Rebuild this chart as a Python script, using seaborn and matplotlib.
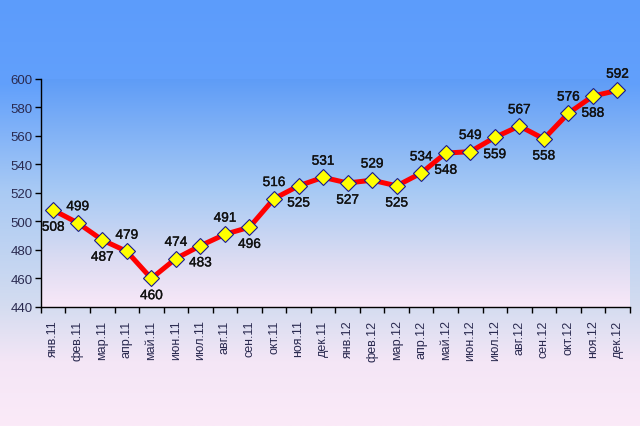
import numpy as np
import pandas as pd
import matplotlib
matplotlib.use("Agg")
import matplotlib.pyplot as plt
import matplotlib.patheffects as pe
from matplotlib.colors import LinearSegmentedColormap
import seaborn as sns

months = ["янв", "фев", "мар", "апр", "май", "июн", "июл", "авг", "сен", "окт", "ноя", "дек"]
categories = [f"{m}.11" for m in months] + [f"{m}.12" for m in months]
values = [508, 499, 487, 479, 460, 474, 483, 491, 496, 516, 525, 531,
          527, 529, 525, 534, 548, 549, 559, 567, 558, 576, 588, 592]
yticks = [440, 460, 480, 500, 520, 540, 560, 580, 600]

sns.set_style("white")
plt.rcParams['font.family'] = ['Liberation Sans', 'DejaVu Sans']

fig = plt.figure(figsize=(6.4, 4.27), dpi=100)

# figure background gradient
bg = fig.add_axes([0, 0, 1, 1], zorder=-10)
cmap_fig = LinearSegmentedColormap.from_list(
    "figbg", [(0.0, "#5c9cfc"), (0.2, "#62a0fb"), (0.45, "#a9caf4"), (0.72, "#d4dcf0"), (0.85, "#f4e6f6"), (1.0, "#fbeaf8")])
bg.imshow(np.linspace(0, 1, 256).reshape(-1, 1), aspect="auto", cmap=cmap_fig,
          extent=[0, 1, 0, 1], origin="upper")
bg.set_axis_off()

ax = fig.add_axes([0.064, 0.2787, 0.92, 0.534])
ax.patch.set_alpha(0)
cmap_ax = LinearSegmentedColormap.from_list(
    "axbg", [(0.0, "#5e9cf7"), (0.5, "#a8caf4"), (0.8, "#dcdcf2"), (1.0, "#f9e8f8")])
ax.imshow(np.linspace(0, 1, 256).reshape(-1, 1), aspect="auto", cmap=cmap_ax,
          extent=[0, 1, 0, 1], origin="upper", transform=ax.transAxes, zorder=0)

df = pd.DataFrame({"x": np.arange(len(values)), "y": values})
sns.lineplot(data=df, x="x", y="y", ax=ax, color="#ff0000", linewidth=3.6,
             marker="D", markersize=8.5, markerfacecolor="#ffff00",
             markeredgecolor="#1a1a8c", markeredgewidth=0.8, zorder=3)

for i, v in enumerate(values):
    dy = -12 if i % 2 == 0 else 12
    ax.annotate(str(v), (i, v), xytext=(0, dy), textcoords="offset points",
                ha="center", va="center", fontsize=9.8, color="#111111", zorder=4,
                path_effects=[pe.withStroke(linewidth=0.25, foreground="#111111")])

ax.set_xlim(-0.5, len(values) - 0.5)
ax.set_ylim(440, 600)
ax.set_yticks(yticks)
ax.set_yticklabels([str(t) for t in yticks], fontsize=9.5, color="#2a2a50")
ax.set_xticks(np.arange(len(values)))
ax.set_xticklabels(categories, rotation=90, fontsize=9, color="#2a2a50")
ax.set_xticks(np.arange(len(values) + 1) - 0.5, minor=True)
ax.tick_params(axis="x", which="major", length=0, pad=9)
ax.tick_params(axis="x", which="minor", length=4, width=1, color="#000000", direction="out", bottom=True)
ax.tick_params(axis="y", which="major", length=4, width=1, color="#000000", direction="out", left=True, pad=2)
ax.set_xlabel("")
ax.set_ylabel("")
for s in ["top", "right"]:
    ax.spines[s].set_visible(False)
for s in ["left", "bottom"]:
    ax.spines[s].set_color("#000000")
    ax.spines[s].set_linewidth(1)
ax.grid(False)

fig.savefig("out.png", dpi=100)
